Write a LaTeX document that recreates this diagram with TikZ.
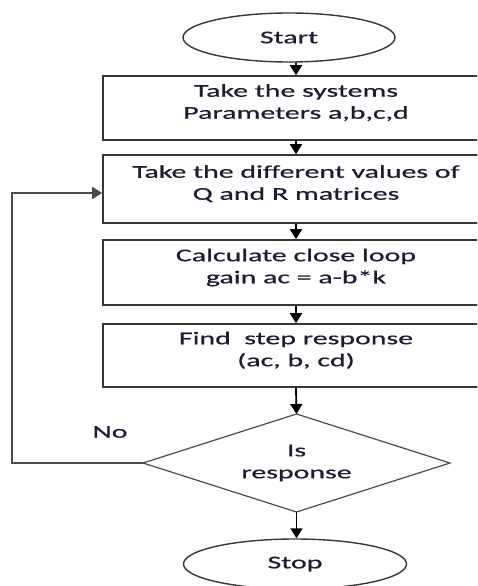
\documentclass[tikz,border=0pt]{standalone}
\usepackage{fontspec}
\setmainfont{Carlito}[FakeStretch=1.66,FakeBold=0.6]
\usetikzlibrary{shapes.geometric,arrows.meta}
\definecolor{txt}{RGB}{28,28,50}
\definecolor{edge}{RGB}{55,55,55}
\definecolor{dedge}{RGB}{75,75,75}
\definecolor{loopc}{RGB}{75,75,75}
\tikzset{
  base/.style={font=\fontsize{18}{22}\selectfont, text=txt, align=center, inner sep=0pt},
  term/.style={base, ellipse, draw=edge, line width=1.4pt},
  procbox/.style={base, rectangle, draw=edge, line width=1.6pt, minimum width=386pt, text depth=13pt},
  flow/.style={draw=black, line width=1.8pt, -{Triangle[width=12pt,length=10pt]}},
  back/.style={draw=loopc, line width=1.8pt, -{Triangle[width=12pt,length=10pt]}}
}
\begin{document}
\begin{tikzpicture}[x=1pt,y=-1pt]
\useasboundingbox (0,0) rectangle (477,586);
\clip (0,0) rectangle (477,586);
\node[term, minimum width=212pt, minimum height=49pt] (start) at (289,37.5) {Start};
\node[procbox, minimum height=64pt] (b1) at (296,108) {Take the systems\\Parameters a,b,c,d};
\node[procbox, minimum height=68pt] (b2) at (296,189) {Take the different values of\\Q and R matrices};
\node[procbox, minimum height=65pt] (b3) at (296,272.5) {Calculate close loop\\gain ac = a-b*k};
\node[procbox, minimum height=63pt] (b4) at (296,355.5) {Find\ \ step response\\(ac, b, cd)};
\coordinate (dN) at (296.5,414);
\coordinate (dS) at (296.5,512);
\coordinate (dW) at (143,463);
\coordinate (dE) at (450,463);
\draw[dedge, line width=1.2pt, line join=miter] (dN) -- (dE) -- (dS) -- (dW) -- cycle;
\node[base] (dec) at (296.5,463) {Is\\response};
\node[term, minimum width=223pt, minimum height=50pt] (stop) at (295,564) {Stop};
\node[base] (no) at (110,432) {No};
\coordinate (lc) at (12,193);
\draw[flow] (start.south -| b1.north) -- (b1.north);
\draw[flow] (b1) -- (b2);
\draw[flow] (b2) -- (b3);
\draw[flow] (b3) -- (b4);
\draw[flow] (b4.south) -- (dN);
\draw[flow] (dS) -- (stop.north -| dS);
\draw[back] (dW) -| (lc) -- (b2.west |- lc);
\end{tikzpicture}
\end{document}
